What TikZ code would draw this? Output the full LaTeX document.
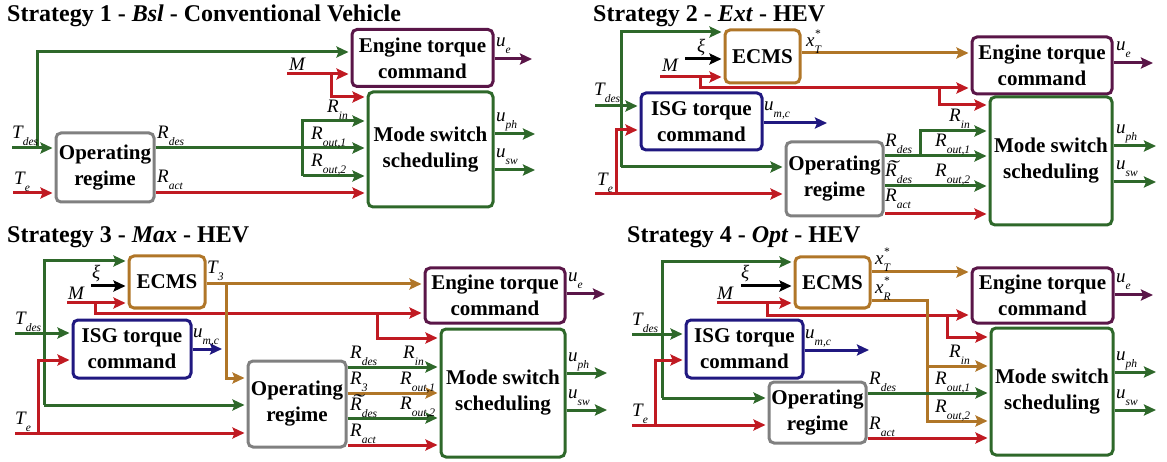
\documentclass[tikz,border=0pt]{standalone}
\usepackage{fontspec}
\setmainfont{Liberation Serif}
\usetikzlibrary{arrows.meta}
\definecolor{grn}{RGB}{46,104,42}
\definecolor{red}{RGB}{192,26,34}
\definecolor{brn}{RGB}{176,118,40}
\definecolor{pur}{RGB}{90,22,72}
\definecolor{blu}{RGB}{32,24,128}
\definecolor{gry}{RGB}{128,128,128}
\newcommand\SB[2]{#1\raisebox{-7pt}{\fontsize{11.5}{11.5}\selectfont #2}}
\newcommand\SBS[2]{#1\makebox[0pt][l]{\raisebox{9.5pt}{\fontsize{11.5}{11.5}\selectfont *}}\raisebox{-7pt}{\fontsize{11.5}{11.5}\selectfont #2}}
\newcommand\TR{\makebox[0pt][l]{\hspace{1.5pt}\raisebox{3pt}{\scalebox{1.8}[1]{\char"02DC}}}R}
\tikzset{
 con/.style={line width=3pt,-{Stealth[length=12pt,width=11pt,inset=2pt]},shorten >=2pt},
 blk/.style={draw,line width=3pt,rounded corners=5pt,font=\fontsize{21}{26}\selectfont\bfseries,align=center,inner sep=0pt,text=black},
 lab/.style={anchor=base west,inner sep=0pt,font=\fontsize{19}{19}\selectfont\itshape},
 ttl/.style={anchor=base west,inner sep=0pt,font=\fontsize{24}{24}\selectfont\bfseries},
}
\begin{document}
\begin{tikzpicture}[x=1pt,y=-1pt]
\useasboundingbox (0,0) rectangle (1167,462);
% ================= Titles
\node[ttl] (t1) at (7,22) {Strategy 1 - \textit{Bsl} - Conventional Vehicle};
\node[ttl] (t2) at (593,22) {Strategy 2 - \textit{Ext} - HEV};
\node[ttl] (t3) at (7,243) {Strategy 3 - \textit{Max} - HEV};
\node[ttl] (t4) at (627,243) {Strategy 4 - \textit{Opt} - HEV};
% ================= Panel 1
\node[blk,draw=pur,minimum width=141pt,minimum height=57pt] (eng1) at (422.5,58) {Engine torque\\command};
\node[blk,draw=grn,minimum width=125pt,minimum height=115pt] (mode1) at (430.5,149.5) {Mode switch\\scheduling};
\node[blk,draw=gry,minimum width=98pt,minimum height=69pt] (op1) at (105,167.5) {Operating\\regime};
\coordinate (a1) at (12,148);
\coordinate (a1j) at (37.5,148);
\coordinate (a1t) at (37.5,52);
\draw[con,grn] (a1) -- (op1.west|-a1);
\draw[con,grn] (a1j) -- (a1t) -- (eng1.west|-a1t);
\coordinate (b1) at (13,193);
\draw[con,red] (b1) -- (op1.west|-b1);
\coordinate (m1) at (287,74);
\coordinate (m1j) at (331,74);
\coordinate (m1b) at (331,97);
\draw[con,red] (m1) -- (eng1.west|-m1);
\draw[con,red] (m1j) -- (m1b) -- (mode1.west|-m1b);
\draw[con,grn] (op1.east|-a1) -- (mode1.west|-a1);
\coordinate (r1t) at (302.5,121);
\coordinate (r1b) at (302.5,176);
\draw[con,grn] (r1b) -- (r1t) -- (mode1.west|-r1t);
\draw[con,grn] (r1b) -- (mode1.west|-r1b);
\draw[con,red] (op1.east|-b1) -- (mode1.west|-b1);
\coordinate (ue1) at (534,59);
\coordinate (uph1) at (537,134);
\coordinate (usw1) at (537,170);
\draw[con,pur] (eng1.east|-ue1) -- (ue1);
\draw[con,grn] (mode1.east|-uph1) -- (uph1);
\draw[con,grn] (mode1.east|-usw1) -- (usw1);
\node[lab] (l1a) at (12,139) {\SB{T}{des}};
\node[lab] (l1b) at (14,185) {\SB{T}{e}};
\node[lab] (l1c) at (289,71) {M};
\node[lab] (l1d) at (157,139) {\SB{R}{des}};
\node[lab] (l1e) at (157,183) {\SB{R}{act}};
\node[lab] (l1f) at (327,113) {\SB{R}{in}};
\node[lab] (l1g) at (311,140) {\SB{R}{out,1}};
\node[lab] (l1h) at (311,167) {\SB{R}{out,2}};
\node[lab] (l1i) at (496,47) {\SB{u}{e}};
\node[lab] (l1j) at (496,122) {\SB{u}{ph}};
\node[lab] (l1k) at (496,158) {\SB{u}{sw}};
% ================= Panel 2
\node[blk,draw=brn,minimum width=75pt,minimum height=53pt] (ecms2) at (762.5,56.5) {ECMS};
\node[blk,draw=pur,minimum width=140pt,minimum height=57pt] (eng2) at (1042,65.5) {Engine torque\\command};
\node[blk,draw=grn,minimum width=122pt,minimum height=128pt] (mode2) at (1051,161) {Mode switch\\scheduling};
\node[blk,draw=blu,minimum width=121pt,minimum height=57pt] (isg2) at (701.5,121.5) {ISG torque\\command};
\node[blk,draw=gry,minimum width=97pt,minimum height=74pt] (op2) at (834.5,179) {Operating\\regime};
\coordinate (a2) at (595,106);
\coordinate (a2t) at (621,32);
\coordinate (a2b) at (621,167);
\draw[con,grn] (a2) -- (isg2.west|-a2);
\draw[con,grn] (a2b) -- (a2t) -- (ecms2.west|-a2t);
\draw[con,grn] (a2b) -- (op2.west|-a2b);
\coordinate (b2) at (595,194);
\coordinate (b2j) at (616,194);
\coordinate (b2t) at (616,130);
\draw[con,red] (b2) -- (op2.west|-b2);
\draw[con,red] (b2j) -- (b2t) -- (isg2.west|-b2t);
\coordinate (x2) at (685,59);
\draw[con,black] (x2) -- (ecms2.west|-x2);
\coordinate (m2) at (660,77);
\coordinate (m2j) at (700.5,77);
\coordinate (m2b) at (700.5,88);
\coordinate (m2k) at (939,88);
\coordinate (m2c) at (939,105);
\draw[con,red] (m2) -- (ecms2.west|-m2);
\draw[con,red] (m2j) -- (m2b) -- (eng2.west|-m2b);
\draw[con,red] (m2k) -- (m2c) -- (mode2.west|-m2c);
\coordinate (xt2) at (800,53);
\draw[con,brn] (ecms2.east|-xt2) -- (eng2.west|-xt2);
\coordinate (ue2) at (1155,63);
\coordinate (uph2) at (1158,146);
\coordinate (usw2) at (1158,182);
\draw[con,pur] (eng2.east|-ue2) -- (ue2);
\draw[con,grn] (mode2.east|-uph2) -- (uph2);
\draw[con,grn] (mode2.east|-usw2) -- (usw2);
\coordinate (um2) at (829,123);
\draw[con,blu] (isg2.east|-um2) -- (um2);
\coordinate (rd2) at (883,156);
\coordinate (rd2j) at (920.5,156);
\coordinate (rd2t) at (920.5,131);
\draw[con,grn] (op2.east|-rd2) -- (mode2.west|-rd2);
\draw[con,grn] (rd2j) -- (rd2t) -- (mode2.west|-rd2t);
\coordinate (rt2) at (883,186);
\draw[con,grn] (op2.east|-rt2) -- (mode2.west|-rt2);
\coordinate (ra2) at (883,214);
\draw[con,red] (op2.east|-ra2) -- (mode2.west|-ra2);
\node[lab] (l2a) at (594,96) {\SB{T}{des}};
\node[lab] (l2b) at (597,186) {\SB{T}{e}};
\node[lab] (l2c) at (697,53) {ξ};
\node[lab] (l2d) at (662,72) {M};
\node[lab] (l2e) at (806,47) {\SBS{x}{T}};
\node[lab] (l2f) at (764,111) {\SB{u}{m,c}};
\node[lab] (l2g) at (1116,51) {\SB{u}{e}};
\node[lab] (l2h) at (1116,134) {\SB{u}{ph}};
\node[lab] (l2i) at (1116,170) {\SB{u}{sw}};
\node[lab] (l2j) at (885,147) {\SB{R}{des}};
\node[lab] (l2k) at (885,177) {\SB{\TR}{des}};
\node[lab] (l2l) at (885,202) {\SB{R}{act}};
\node[lab] (l2m) at (949,122) {\SB{R}{in}};
\node[lab] (l2n) at (935,147) {\SB{R}{out,1}};
\node[lab] (l2o) at (935,177) {\SB{R}{out,2}};
% ================= Panel 3
\node[blk,draw=brn,minimum width=76pt,minimum height=52pt] (ecms3) at (167,282) {ECMS};
\node[blk,draw=pur,minimum width=140pt,minimum height=55pt] (eng3) at (495,295.5) {Engine torque\\command};
\node[blk,draw=blu,minimum width=118pt,minimum height=58pt] (isg3) at (132,349) {ISG torque\\command};
\node[blk,draw=gry,minimum width=98pt,minimum height=86pt] (op3) at (297,404) {Operating\\regime};
\node[blk,draw=grn,minimum width=124pt,minimum height=128pt] (mode3) at (503,393) {Mode switch\\scheduling};
\coordinate (a3) at (15,333);
\coordinate (a3t) at (44,261);
\coordinate (a3b) at (44,405);
\draw[con,grn] (a3) -- (isg3.west|-a3);
\draw[con,grn] (a3b) -- (a3t) -- (ecms3.west|-a3t);
\draw[con,grn] (a3b) -- (op3.west|-a3b);
\coordinate (b3) at (15,433);
\coordinate (b3j) at (38,433);
\coordinate (b3t) at (38,360);
\draw[con,red] (b3) -- (op3.west|-b3);
\draw[con,red] (b3j) -- (b3t) -- (isg3.west|-b3t);
\coordinate (x3) at (91,286);
\draw[con,black] (x3) -- (ecms3.west|-x3);
\coordinate (m3) at (67,303);
\coordinate (m3j) at (95,303);
\coordinate (m3b) at (95,313);
\coordinate (m3k) at (377,313);
\coordinate (m3c) at (377,338);
\draw[con,red] (m3) -- (ecms3.west|-m3);
\draw[con,red] (m3j) -- (m3b) -- (eng3.west|-m3b);
\draw[con,red] (m3k) -- (m3c) -- (mode3.west|-m3c);
\coordinate (t33) at (205,284);
\coordinate (t3j) at (226,284);
\coordinate (t3b) at (226,378);
\draw[con,brn] (ecms3.east|-t33) -- (eng3.west|-t33);
\draw[con,brn] (t3j) -- (t3b) -- (op3.west|-t3b);
\coordinate (um3) at (224,349);
\draw[con,blu] (isg3.east|-um3) -- (um3);
\coordinate (rd3) at (346,367);
\coordinate (r33) at (346,393);
\coordinate (rt3) at (346,418);
\coordinate (ra3) at (346,445);
\draw[con,grn] (op3.east|-rd3) -- (mode3.west|-rd3);
\draw[con,brn] (op3.east|-r33) -- (mode3.west|-r33);
\draw[con,grn] (op3.east|-rt3) -- (mode3.west|-rt3);
\draw[con,red] (op3.east|-ra3) -- (mode3.west|-ra3);
\coordinate (ue3) at (607,294);
\coordinate (uph3) at (609,373);
\coordinate (usw3) at (609,410);
\draw[con,pur] (eng3.east|-ue3) -- (ue3);
\draw[con,grn] (mode3.east|-uph3) -- (uph3);
\draw[con,grn] (mode3.east|-usw3) -- (usw3);
\node[lab] (l3a) at (15,324) {\SB{T}{des}};
\node[lab] (l3b) at (15,424) {\SB{T}{e}};
\node[lab] (l3c) at (92,279) {ξ};
\node[lab] (l3d) at (68,299) {M};
\node[lab] (l3e) at (207,274) {\SB{T}{3}};
\node[lab] (l3f) at (193,337) {\SB{u}{m,c}};
\node[lab] (l3g) at (350,358) {\SB{R}{des}};
\node[lab] (l3h) at (403,358) {\SB{R}{in}};
\node[lab] (l3i) at (350,384) {\SB{R}{3}};
\node[lab] (l3j) at (400,384) {\SB{R}{out,1}};
\node[lab] (l3k) at (350,410) {\SB{\TR}{des}};
\node[lab] (l3l) at (400,409) {\SB{R}{out,2}};
\node[lab] (l3m) at (350,436) {\SB{R}{act}};
\node[lab] (l3n) at (568,282) {\SB{u}{e}};
\node[lab] (l3o) at (568,361) {\SB{u}{ph}};
\node[lab] (l3p) at (568,398) {\SB{u}{sw}};
% ================= Panel 4
\node[blk,draw=brn,minimum width=75pt,minimum height=51pt] (ecms4) at (832.5,282.5) {ECMS};
\node[blk,draw=pur,minimum width=141pt,minimum height=55pt] (eng4) at (1042.5,295.5) {Engine torque\\command};
\node[blk,draw=grn,minimum width=122pt,minimum height=127pt] (mode4) at (1052,391.5) {Mode switch\\scheduling};
\node[blk,draw=blu,minimum width=117pt,minimum height=58pt] (isg4) at (744.5,349) {ISG torque\\command};
\node[blk,draw=gry,minimum width=97pt,minimum height=61pt] (op4) at (817.5,412.5) {Operating\\regime};
\coordinate (a4) at (632,334);
\coordinate (a4t) at (662,262);
\coordinate (a4b) at (662,398);
\draw[con,grn] (a4) -- (isg4.west|-a4);
\draw[con,grn] (a4b) -- (a4t) -- (ecms4.west|-a4t);
\draw[con,grn] (a4b) -- (op4.west|-a4b);
\coordinate (b4) at (632,425);
\coordinate (b4j) at (655,425);
\coordinate (b4t) at (655,360);
\draw[con,red] (b4) -- (op4.west|-b4);
\draw[con,red] (b4j) -- (b4t) -- (isg4.west|-b4t);
\coordinate (x4) at (741,286);
\draw[con,black] (x4) -- (ecms4.west|-x4);
\coordinate (m4) at (717,303);
\coordinate (m4j) at (767,303);
\coordinate (m4b) at (767,315);
\coordinate (m4k) at (947,315);
\coordinate (m4c) at (947,337);
\draw[con,red] (m4) -- (ecms4.west|-m4);
\draw[con,red] (m4j) -- (m4b) -- (eng4.west|-m4b);
\draw[con,red] (m4k) -- (m4c) -- (mode4.west|-m4c);
\coordinate (xt4) at (870,272);
\draw[con,brn] (ecms4.east|-xt4) -- (eng4.west|-xt4);
\coordinate (xr4) at (870,301);
\coordinate (xr4c) at (927,301);
\coordinate (xr4m) at (927,366);
\coordinate (xr4b) at (927,421);
\draw[con,brn] (ecms4.east|-xr4) -- (xr4c) -- (xr4b) -- (mode4.west|-xr4b);
\draw[con,brn] (xr4m) -- (mode4.west|-xr4m);
\coordinate (um4) at (871,350);
\draw[con,blu] (isg4.east|-um4) -- (um4);
\coordinate (rd4) at (866,393);
\coordinate (ra4) at (866,438);
\draw[con,grn] (op4.east|-rd4) -- (mode4.west|-rd4);
\draw[con,red] (op4.east|-ra4) -- (mode4.west|-ra4);
\coordinate (ue4) at (1155,295);
\coordinate (uph4) at (1158,372);
\coordinate (usw4) at (1158,410);
\draw[con,pur] (eng4.east|-ue4) -- (ue4);
\draw[con,grn] (mode4.east|-uph4) -- (uph4);
\draw[con,grn] (mode4.east|-usw4) -- (usw4);
\node[lab] (l4a) at (632,325) {\SB{T}{des}};
\node[lab] (l4b) at (632,416) {\SB{T}{e}};
\node[lab] (l4c) at (741,279) {ξ};
\node[lab] (l4d) at (717,299) {M};
\node[lab] (l4e) at (875,265) {\SBS{x}{T}};
\node[lab] (l4f) at (875,294) {\SBS{x}{R}};
\node[lab] (l4g) at (805,338) {\SB{u}{m,c}};
\node[lab] (l4h) at (869,384) {\SB{R}{des}};
\node[lab] (l4i) at (869,429) {\SB{R}{act}};
\node[lab] (l4j) at (949,357) {\SB{R}{in}};
\node[lab] (l4k) at (935,384) {\SB{R}{out,1}};
\node[lab] (l4l) at (935,412) {\SB{R}{out,2}};
\node[lab] (l4m) at (1116,283) {\SB{u}{e}};
\node[lab] (l4n) at (1116,360) {\SB{u}{ph}};
\node[lab] (l4o) at (1116,398) {\SB{u}{sw}};
\end{tikzpicture}
\end{document}
